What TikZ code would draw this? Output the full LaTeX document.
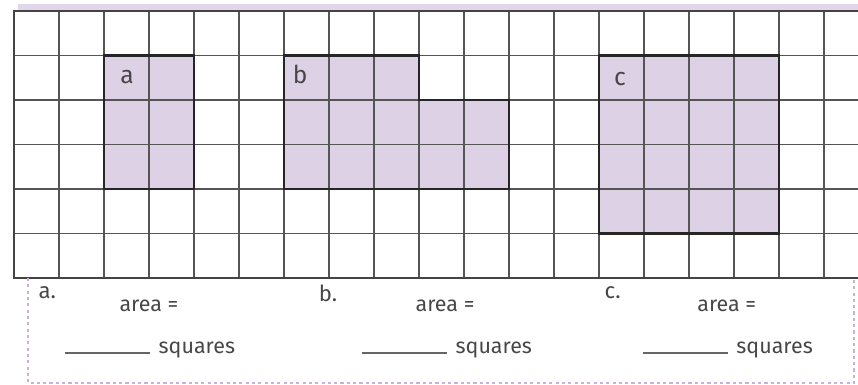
\documentclass[tikz,border=0pt]{standalone}
\usepackage{fontspec}
\setmainfont{Fira Sans}
\usepackage{tikz}
\usetikzlibrary{positioning}

\definecolor{shapefill}{HTML}{DDD1E6}
\definecolor{bandfill}{HTML}{E2D6EA}
\definecolor{dashpurple}{HTML}{C6B2DC}
\definecolor{gridgrey}{HTML}{555555}
\definecolor{inkgrey}{HTML}{474747}

\tikzset{
  gridline/.style={gridgrey, line width=0.5pt},
  frameline/.style={gridgrey!80!black, line width=0.7pt},
  outline/.style={black!85, line width=0.75pt, line join=miter},
  lettertag/.style={font=\fontsize{7}{8}\selectfont, text=inkgrey, inner sep=0pt},
  parttag/.style={font=\fontsize{6.3}{7}\selectfont, text=inkgrey, inner sep=0pt, anchor=west},
  worktext/.style={font=\fontsize{6.1}{7}\selectfont, text=inkgrey, inner sep=0pt},
  answerline/.style={gridgrey!90, line width=0.6pt},
  dashbox/.style={dashpurple, line width=0.4pt, dash pattern=on 0.9pt off 0.9pt}
}

\begin{document}
\begin{tikzpicture}[x=0.45cm, y=0.445cm]
  \useasboundingbox (-0.311,-2.404) rectangle (18.756,6.247);
  % top band
  \fill[bandfill] (0.09,6.02) rectangle (18.76,6.16);
  % shaded shapes
  \fill[shapefill] (2,2) rectangle (4,5);
  \fill[shapefill] (6,2) -- (6,5) -- (9,5) -- (9,4) -- (11,4) -- (11,2) -- cycle;
  \fill[shapefill] (13,1) rectangle (17,5);
  % grid
  \foreach \i in {1,...,18} \draw[gridline] (\i,0) -- (\i,6);
  \foreach \j in {1,...,5} \draw[gridline] (0,\j) -- (18.76,\j);
  \draw[frameline] (18.76,6) -- (0,6) -- (0,0) -- (18.76,0);
  % outlines
  \draw[outline] (2,2) rectangle (4,5);
  \draw[outline] (6,2) -- (6,5) -- (9,5) -- (9,4) -- (11,4) -- (11,2) -- cycle;
  \draw[outline] (13,1) rectangle (17,5);
  \node[lettertag] (tagA) at (2.51,4.52) {a};
  \node[lettertag] (tagB) at (6.36,4.58) {b};
  \node[lettertag] (tagC) at (13.47,4.47) {c};
  % answer box
  \draw[dashbox] (0.311,0) -- (0.311,-2.36) -- (18.67,-2.36) -- (18.67,0);
  \node[parttag] (partA) at (0.53,-0.34) {a.};
  \node[parttag] (partB) at (6.76,-0.34) {b.};
  \node[parttag] (partC) at (13.11,-0.34) {c.};
  \node[worktext] (areaA) at (3.0,-0.62) {area =};
  \node[worktext] (areaB) at (9.58,-0.62) {area =};
  \node[worktext] (areaC) at (15.84,-0.62) {area =};
  \node[worktext, anchor=base west] (sqA) at (3.2,-1.69) {squares};
  \node[worktext, anchor=base west] (sqB) at (9.8,-1.69) {squares};
  \node[worktext, anchor=base west] (sqC) at (16.04,-1.69) {squares};
  \coordinate (lnA1) at (1.13,-1.69);  \coordinate (lnA2) at (3.02,-1.69);
  \coordinate (lnB1) at (7.73,-1.69);  \coordinate (lnB2) at (9.62,-1.69);
  \coordinate (lnC1) at (13.98,-1.69); \coordinate (lnC2) at (15.87,-1.69);
  \draw[answerline] (lnA1) -- (lnA2);
  \draw[answerline] (lnB1) -- (lnB2);
  \draw[answerline] (lnC1) -- (lnC2);
\end{tikzpicture}
\end{document}
